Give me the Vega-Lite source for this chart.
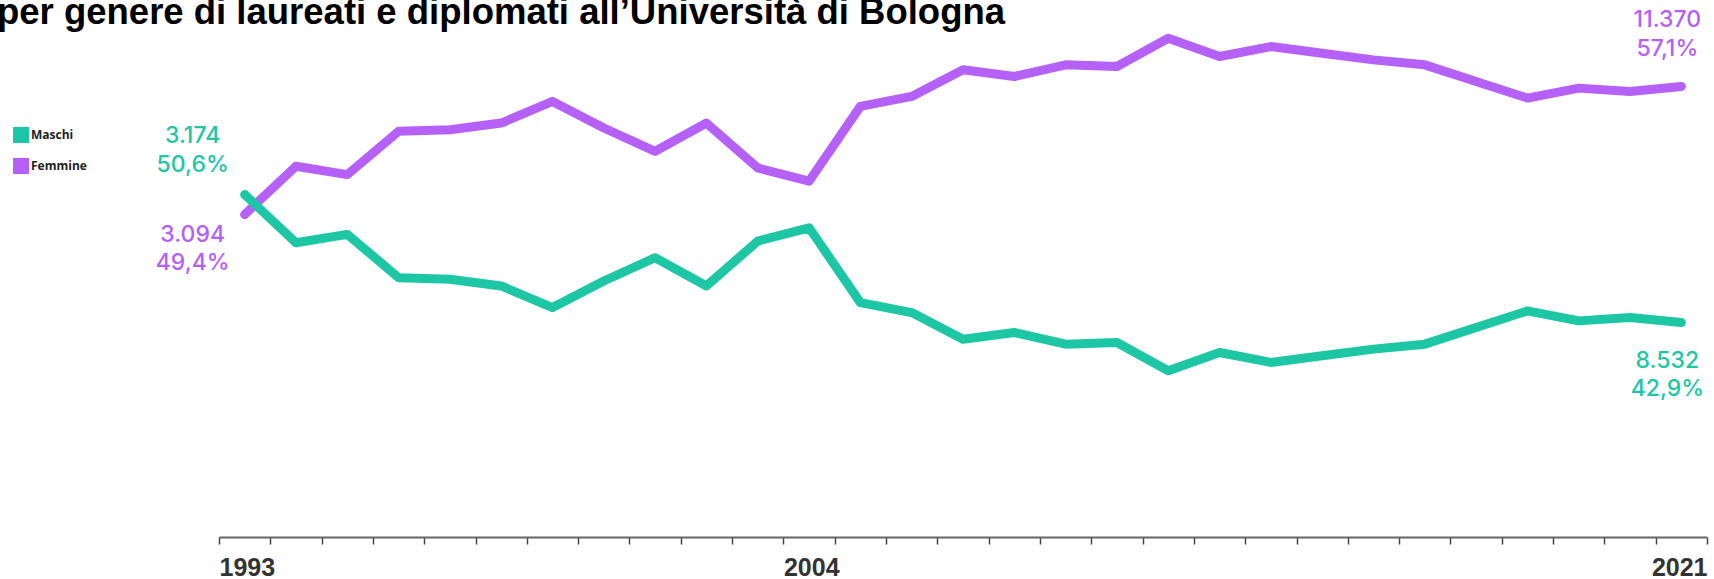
{
  "$schema": "https://vega.github.io/schema/vega-lite/v6.json",
  "autosize": "none",
  "width": 1488,
  "height": 532,
  "padding": {"left": 219, "top": 5, "right": 7, "bottom": 42},
  "background": "white",
  "title": {
    "text": "per genere di laureati e diplomati all’Università di Bologna",
    "anchor": "start",
    "frame": "group",
    "font": "Liberation Sans",
    "fontWeight": "bold",
    "fontSize": 36.5,
    "color": "#000000",
    "baseline": "alphabetic",
    "offset": 0,
    "dx": -222,
    "dy": 55
  },
  "datasets": {
    "serie": [
      {"anno": 1993, "genere": "Femmine", "quota": 49.4}, {"anno": 1993, "genere": "Maschi", "quota": 50.6},
      {"anno": 1994, "genere": "Femmine", "quota": 52.3}, {"anno": 1994, "genere": "Maschi", "quota": 47.7},
      {"anno": 1995, "genere": "Femmine", "quota": 51.8}, {"anno": 1995, "genere": "Maschi", "quota": 48.2},
      {"anno": 1996, "genere": "Femmine", "quota": 54.4}, {"anno": 1996, "genere": "Maschi", "quota": 45.6},
      {"anno": 1997, "genere": "Femmine", "quota": 54.5}, {"anno": 1997, "genere": "Maschi", "quota": 45.5},
      {"anno": 1998, "genere": "Femmine", "quota": 54.9}, {"anno": 1998, "genere": "Maschi", "quota": 45.1},
      {"anno": 1999, "genere": "Femmine", "quota": 56.2}, {"anno": 1999, "genere": "Maschi", "quota": 43.8},
      {"anno": 2000, "genere": "Femmine", "quota": 54.6}, {"anno": 2000, "genere": "Maschi", "quota": 45.4},
      {"anno": 2001, "genere": "Femmine", "quota": 53.2}, {"anno": 2001, "genere": "Maschi", "quota": 46.8},
      {"anno": 2002, "genere": "Femmine", "quota": 54.9}, {"anno": 2002, "genere": "Maschi", "quota": 45.1},
      {"anno": 2003, "genere": "Femmine", "quota": 52.2}, {"anno": 2003, "genere": "Maschi", "quota": 47.8},
      {"anno": 2004, "genere": "Femmine", "quota": 51.4}, {"anno": 2004, "genere": "Maschi", "quota": 48.6},
      {"anno": 2005, "genere": "Femmine", "quota": 55.9}, {"anno": 2005, "genere": "Maschi", "quota": 44.1},
      {"anno": 2006, "genere": "Femmine", "quota": 56.5}, {"anno": 2006, "genere": "Maschi", "quota": 43.5},
      {"anno": 2007, "genere": "Femmine", "quota": 58.1}, {"anno": 2007, "genere": "Maschi", "quota": 41.9},
      {"anno": 2008, "genere": "Femmine", "quota": 57.7}, {"anno": 2008, "genere": "Maschi", "quota": 42.3},
      {"anno": 2009, "genere": "Femmine", "quota": 58.4}, {"anno": 2009, "genere": "Maschi", "quota": 41.6},
      {"anno": 2010, "genere": "Femmine", "quota": 58.3}, {"anno": 2010, "genere": "Maschi", "quota": 41.7},
      {"anno": 2011, "genere": "Femmine", "quota": 60.0}, {"anno": 2011, "genere": "Maschi", "quota": 40.0},
      {"anno": 2012, "genere": "Femmine", "quota": 58.9}, {"anno": 2012, "genere": "Maschi", "quota": 41.1},
      {"anno": 2013, "genere": "Femmine", "quota": 59.5}, {"anno": 2013, "genere": "Maschi", "quota": 40.5},
      {"anno": 2014, "genere": "Femmine", "quota": 59.1}, {"anno": 2014, "genere": "Maschi", "quota": 40.9},
      {"anno": 2015, "genere": "Femmine", "quota": 58.7}, {"anno": 2015, "genere": "Maschi", "quota": 41.3},
      {"anno": 2016, "genere": "Femmine", "quota": 58.4}, {"anno": 2016, "genere": "Maschi", "quota": 41.6},
      {"anno": 2017, "genere": "Femmine", "quota": 57.4}, {"anno": 2017, "genere": "Maschi", "quota": 42.6},
      {"anno": 2018, "genere": "Femmine", "quota": 56.4}, {"anno": 2018, "genere": "Maschi", "quota": 43.6},
      {"anno": 2019, "genere": "Femmine", "quota": 57.0}, {"anno": 2019, "genere": "Maschi", "quota": 43.0},
      {"anno": 2020, "genere": "Femmine", "quota": 56.8}, {"anno": 2020, "genere": "Maschi", "quota": 43.2},
      {"anno": 2021, "genere": "Femmine", "quota": 57.1}, {"anno": 2021, "genere": "Maschi", "quota": 42.9}
    ],
    "etichette": [
      {"anno": 1993, "genere": "Maschi", "quota": 50.6, "testo": ["3.174", "50,6%"]},
      {"anno": 1993, "genere": "Femmine", "quota": 49.4, "testo": ["3.094", "49,4%"]},
      {"anno": 2021, "genere": "Maschi", "quota": 42.9, "testo": ["8.532", "42,9%"]},
      {"anno": 2021, "genere": "Femmine", "quota": 57.1, "testo": ["11.370", "57,1%"]}
    ]
  },
  "encoding": {
    "x": {
      "field": "anno",
      "type": "quantitative",
      "scale": {"domain": [1992.5, 2021.5], "nice": false, "zero": false},
      "axis": {
        "title": null,
        "grid": false,
        "values": [1992.5, 1993.5, 1994.5, 1995.5, 1996.5, 1997.5, 1998.5, 1999.5, 2000.5, 2001.5, 2002.5, 2003.5, 2004.5, 2005.5, 2006.5, 2007.5, 2008.5, 2009.5, 2010.5, 2011.5, 2012.5, 2013.5, 2014.5, 2015.5, 2016.5, 2017.5, 2018.5, 2019.5, 2020.5, 2021.5],
        "labelExpr": "datum.value == 1992.5 ? '1993' : datum.value == 2003.5 ? '2004' : datum.value == 2021.5 ? '2021' : ''",
        "labelAlign": {"condition": {"test": "datum.value > 2021", "value": "right"}, "value": "left"},
        "labelFont": "Liberation Sans",
        "labelFontWeight": "bold",
        "labelFontSize": 25,
        "labelColor": "#333333",
        "labelPadding": 11,
        "labelOverlap": false,
        "labelBound": false,
        "labelFlush": false,
        "domainColor": "#666666",
        "domainWidth": 2,
        "tickColor": "#444444",
        "tickWidth": 1.5,
        "tickSize": 7
      }
    },
    "y": {
      "field": "quota",
      "type": "quantitative",
      "scale": {"domain": [30, 62], "nice": false, "zero": false},
      "axis": null
    }
  },
  "layer": [
    {
      "data": {"name": "serie"},
      "mark": {"type": "line", "strokeWidth": 9, "strokeCap": "round", "strokeJoin": "round"},
      "encoding": {
        "color": {
          "field": "genere",
          "type": "nominal",
          "scale": {"domain": ["Maschi", "Femmine"], "range": ["#1dc7a5", "#b561f7"]},
          "legend": {
            "title": null,
            "orient": "none",
            "legendX": -206,
            "legendY": 122,
            "symbolType": "square",
            "symbolSize": 256,
            "symbolStrokeWidth": 0,
            "rowPadding": 15,
            "labelOffset": 2,
            "labelFont": "Open Sans",
            "labelFontWeight": "bold",
            "labelFontSize": 12,
            "labelColor": "#222222",
            "encode": {
              "symbols": {"update": {"fill": {"scale": "color", "field": "value"}, "strokeWidth": {"value": 0}}}
            }
          }
        }
      }
    },
    {
      "data": {"name": "serie"},
      "mark": {"type": "point", "filled": true, "size": 60, "opacity": 1},
      "encoding": {
        "color": {"field": "genere", "type": "nominal"}
      }
    },
    {
      "data": {"name": "etichette"},
      "transform": [{"filter": "datum.anno == 1993 && datum.genere == 'Maschi'"}],
      "mark": {"type": "text", "font": "Inter", "fontWeight": 500, "fontSize": 23, "align": "center", "baseline": "alphabetic", "lineHeight": 29, "dx": -52, "dy": -52},
      "encoding": {"text": {"field": "testo"}, "color": {"field": "genere", "type": "nominal"}}
    },
    {
      "data": {"name": "etichette"},
      "transform": [{"filter": "datum.anno == 1993 && datum.genere == 'Femmine'"}],
      "mark": {"type": "text", "font": "Inter", "fontWeight": 500, "fontSize": 23, "align": "center", "baseline": "alphabetic", "lineHeight": 28, "dx": -52, "dy": 28},
      "encoding": {"text": {"field": "testo"}, "color": {"field": "genere", "type": "nominal"}}
    },
    {
      "data": {"name": "etichette"},
      "transform": [{"filter": "datum.anno == 2021 && datum.genere == 'Femmine'"}],
      "mark": {"type": "text", "font": "Inter", "fontWeight": 500, "fontSize": 23, "align": "center", "baseline": "alphabetic", "lineHeight": 29, "dx": -14, "dy": -59},
      "encoding": {"text": {"field": "testo"}, "color": {"field": "genere", "type": "nominal"}}
    },
    {
      "data": {"name": "etichette"},
      "transform": [{"filter": "datum.anno == 2021 && datum.genere == 'Maschi'"}],
      "mark": {"type": "text", "font": "Inter", "fontWeight": 500, "fontSize": 23, "align": "center", "baseline": "alphabetic", "lineHeight": 28, "dx": -14, "dy": 45},
      "encoding": {"text": {"field": "testo"}, "color": {"field": "genere", "type": "nominal"}}
    }
  ],
  "config": {"view": {"stroke": null}}
}
